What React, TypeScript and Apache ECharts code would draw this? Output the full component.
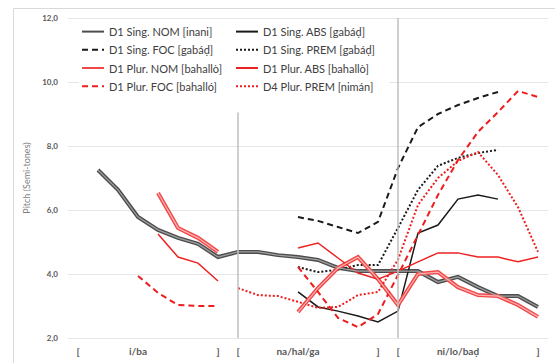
import React, { useEffect, useRef } from "react";
import * as echarts from "echarts";

const tickLabels = ["[", "", "", "i/ba", "", "", "", "]", "[", "", "", "na/hal/ga", "", "", "", "]", "[", "", "", "ni/lo/baḍ", "", "", "", "]"];
const categories = tickLabels.map((_, i) => String(i));
// separator positions (category index) and top value each separator reaches
const separators = [8, 16];
const separatorTops = [9.05, 12];

const N = null;
const singNom = [N, 7.25, 6.63, 5.78, 5.38, 5.13, 4.94, 4.53, 4.69, 4.69, 4.59, 4.53, 4.44, 4.19, 4.09, 4.09, 4.09, 4.09, 3.75, 3.91, 3.59, 3.31, 3.31, 2.97];
const singAbs = [N, N, N, N, N, N, N, N, N, N, N, 3.44, 2.97, 2.84, 2.69, 2.5, 2.84, 5.28, 5.53, 6.34, 6.47, 6.34, N, N];
const singFoc = [N, N, N, N, N, N, N, N, N, N, N, 5.78, 5.66, 5.47, 5.28, 5.63, 7.31, 8.59, 9.0, 9.28, 9.5, 9.69, N, N];
const singPrem = [N, N, N, N, N, N, N, N, N, N, N, 4.22, 4.06, 4.13, 4.28, 4.28, 5.44, 6.63, 7.38, 7.63, 7.78, 7.88, N, N];
const plurNom = [N, N, N, N, 6.53, 5.44, 5.13, 4.69, N, N, N, 2.81, 3.56, 4.19, 4.53, 3.84, 3.03, 4.0, 4.06, 3.59, 3.34, 3.31, 3.03, 2.66];
const plurAbs = [N, N, N, N, 5.25, 4.53, 4.34, 3.78, N, N, N, 4.81, 4.97, 4.5, 4.03, 3.84, 4.09, 4.38, 4.66, 4.66, 4.53, 4.53, 4.38, 4.53];
const plurFoc = [N, N, N, 3.94, 3.41, 3.03, 3.0, 3.0, N, N, N, 4.22, 3.44, 2.63, 2.34, 2.75, 3.97, 5.22, 6.47, 7.56, 8.44, 9.06, 9.72, 9.53];
const plurPremD4 = [N, N, N, N, N, N, N, N, 3.56, 3.34, 3.31, 3.13, 2.94, 2.97, 3.34, 3.44, 4.45, 6.16, 7.0, 7.53, 7.81, 7.09, 6.09, 4.69];

const names = {
  sNom: "D1 Sing. NOM [inani]",
  sAbs: "D1 Sing. ABS [gabáḍ]",
  sFoc: "D1 Sing. FOC [gabáḍ]",
  sPrem: "D1 Sing. PREM [gabáḍ]",
  pNom: "D1 Plur. NOM [bahallò]",
  pAbs: "D1 Plur. ABS [bahallò]",
  pFoc: "D1 Plur. FOC [bahalló]",
  pPrem: "D4 Plur. PREM [nimán]",
};

const FONT = "Lato, 'Open Sans', sans-serif";

function line(name: string, data: (number | null)[], color: string, width: number, type: any, extra: any = {}) {
  return {
    name,
    type: "line",
    data,
    symbol: "none",
    connectNulls: false,
    silent: true,
    lineStyle: { color, width, type, cap: "butt", join: "miter" },
    itemStyle: { color },
    ...extra,
  };
}

const legendBase = {
  orient: "vertical",
  top: 24,
  itemGap: 7,
  itemWidth: 22,
  itemHeight: 14,
  selectedMode: false,
  backgroundColor: "#ffffff",
  itemStyle: { opacity: 0 },
  textStyle: { fontSize: 11, color: "#404040", fontFamily: FONT },
};

export default function App() {
  const ref = useRef<HTMLDivElement>(null);
  useEffect(() => {
    document.body.style.margin = "0";
    const chart = echarts.init(ref.current!, null, { renderer: "svg" });
    const dash = [6, 4];
    const dot = [2, 2];
    const option: any = {
      animation: false,
      backgroundColor: "#ffffff",
      textStyle: { fontFamily: FONT },
      grid: { left: 68, right: 7, top: 18, bottom: 25, containLabel: false },
      xAxis: {
        type: "category",
        data: categories,
        boundaryGap: true,
        axisLine: { show: false },
        axisTick: { show: false },
        axisLabel: {
          interval: 0,
          margin: 8,
          fontSize: 10,
          fontWeight: "bold",
          color: "#595959",
          fontFamily: FONT,
          formatter: (_v: string, i: number) => tickLabels[i],
        },
        splitLine: { show: false },
      },
      yAxis: {
        type: "value",
        min: 2,
        max: 12,
        interval: 2,
        name: "Pitch (Semi-tones)",
        nameLocation: "middle",
        nameGap: 31,
        nameTextStyle: { fontSize: 9, color: "#7f7f7f", fontFamily: FONT },
        axisLine: { show: false },
        axisTick: { show: false },
        axisLabel: {
          margin: 10,
          fontSize: 8,
          fontWeight: "bold",
          color: "#595959",
          fontFamily: FONT,
          formatter: (v: number) => v.toFixed(1).replace(".", ","),
        },
        splitLine: { lineStyle: { color: "#e6e6e6", width: 1 } },
      },
      legend: [
        { ...legendBase, data: [names.sNom, names.sFoc, names.pNom, names.pFoc], left: 79, padding: [2, 10, 3, 2] },
        { ...legendBase, data: [names.sAbs, names.sPrem, names.pAbs, names.pPrem], left: 228, padding: [2, 14, 3, 7] },
      ],
      graphic: [
        {
          type: "rect",
          z: 10,
          silent: true,
          shape: { x: 13.5, y: 8.5, width: 600, height: 400 },
          style: { fill: "none", stroke: "#d9d9d9", lineWidth: 1 },
        },
      ],
      series: [
        line(names.sNom, singNom, "#4d4d4d", 4, "solid", {
          markLine: {
            silent: true,
            symbol: ["none", "none"],
            label: { show: false },
            lineStyle: { color: "#bfbfbf", width: 1.5, type: "solid" },
            data: separators.map((s, i) => [
              { xAxis: s, yAxis: 2 },
              { xAxis: s, yAxis: separatorTops[i] },
            ]),
          },
        }),
        line(names.sAbs, singAbs, "#1a1a1a", 1.5, "solid"),
        line(names.sFoc, singFoc, "#1a1a1a", 2, dash),
        line(names.sPrem, singPrem, "#1a1a1a", 2, dot),
        line(names.pNom, plurNom, "#f04848", 4, "solid"),
        line(names.pAbs, plurAbs, "#ee2222", 1.5, "solid"),
        line(names.pFoc, plurFoc, "#ee1c1c", 2, dash),
        line(names.pPrem, plurPremD4, "#ee1c1c", 2, dot),
        line("_sNomInner", singNom, "#a0a0a0", 1.2, "solid"),
        line("_pNomInner", plurNom, "#ffb4b4", 1.2, "solid"),
      ],
    };
    chart.setOption(option);
    return () => chart.dispose();
  }, []);
  return <div ref={ref} style={{ width: 555, height: 363 }} />;
}
